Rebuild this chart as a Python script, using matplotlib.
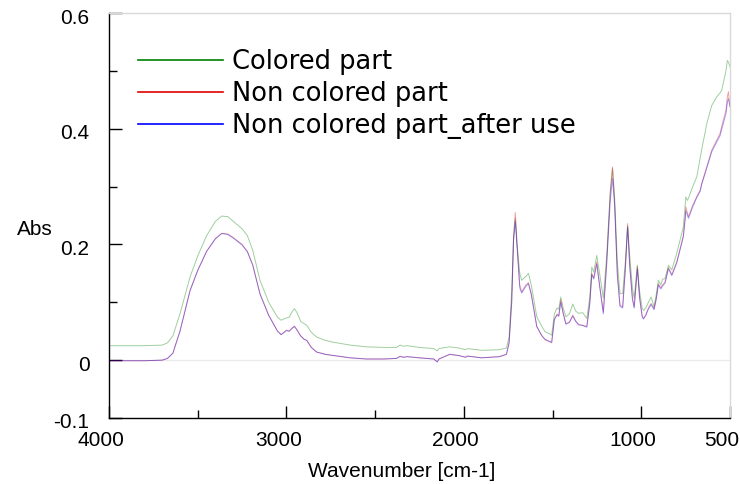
import matplotlib
matplotlib.use('Agg')
import matplotlib.pyplot as plt
import matplotlib.transforms as mtransforms

# wavenumber [cm-1], high to low
wavenumber = [4000, 3800, 3700, 3670, 3640, 3600, 3543, 3500, 3450, 3400,
              3365, 3330, 3300, 3250, 3220, 3190, 3149, 3100, 3050, 3030,
              3000, 2985, 2965, 2955, 2940, 2920, 2900, 2885, 2860, 2830,
              2780, 2736, 2640, 2550, 2450, 2380, 2360, 2340, 2320, 2250,
              2170, 2150, 2140, 2080, 2030, 1990, 1980, 1900, 1800, 1760,
              1745, 1730, 1720, 1710, 1700, 1685, 1674, 1650, 1636, 1620,
              1589, 1560, 1542, 1520, 1505, 1490, 1475, 1465, 1454, 1440,
              1425, 1405, 1386, 1370, 1354, 1330, 1307, 1290, 1279, 1268,
              1251, 1235, 1214, 1195, 1175, 1162, 1150, 1135, 1120, 1105,
              1090, 1077, 1065, 1050, 1040, 1030, 1022, 1010, 995, 988,
              975, 960, 945, 937, 928, 915, 904, 890, 880, 866,
              847, 828, 800, 775, 763, 752, 749, 740, 734, 710,
              687, 668, 660, 630, 603, 575, 556, 546, 523, 515,
              509, 500]

colored = [0.025, 0.025, 0.026, 0.030, 0.042, 0.080, 0.144, 0.180, 0.215, 0.240,
           0.249, 0.248, 0.240, 0.227, 0.215, 0.190, 0.138, 0.100, 0.074, 0.069,
           0.073, 0.074, 0.085, 0.089, 0.082, 0.067, 0.063, 0.060, 0.048, 0.040,
           0.034, 0.031, 0.026, 0.023, 0.022, 0.022, 0.026, 0.024, 0.025, 0.022,
           0.020, 0.016, 0.020, 0.023, 0.021, 0.018, 0.020, 0.017, 0.018, 0.021,
           0.040, 0.121, 0.210, 0.245, 0.200, 0.150, 0.138, 0.145, 0.150, 0.130,
           0.075, 0.058, 0.049, 0.046, 0.043, 0.080, 0.090, 0.088, 0.109, 0.090,
           0.075, 0.080, 0.097, 0.085, 0.081, 0.082, 0.072, 0.110, 0.161, 0.152,
           0.181, 0.150, 0.107, 0.180, 0.290, 0.331, 0.280, 0.170, 0.115, 0.115,
           0.170, 0.232, 0.180, 0.125, 0.107, 0.140, 0.164, 0.120, 0.090, 0.086,
           0.090, 0.100, 0.109, 0.102, 0.092, 0.115, 0.138, 0.130, 0.140, 0.141,
           0.164, 0.156, 0.185, 0.215, 0.230, 0.270, 0.282, 0.276, 0.280, 0.300,
           0.317, 0.350, 0.363, 0.410, 0.440, 0.455, 0.462, 0.467, 0.500, 0.518,
           0.515, 0.507]

non_colored = [-0.001, -0.001, 0.000, 0.003, 0.012, 0.050, 0.121, 0.155, 0.188, 0.210,
               0.219, 0.218, 0.212, 0.200, 0.188, 0.165, 0.115, 0.078, 0.050, 0.044,
               0.052, 0.050, 0.056, 0.059, 0.052, 0.042, 0.036, 0.034, 0.022, 0.014,
               0.010, 0.008, 0.004, 0.002, 0.002, 0.003, 0.007, 0.005, 0.006, 0.004,
               0.002, -0.003, 0.002, 0.010, 0.008, 0.005, 0.007, 0.004, 0.006, 0.010,
               0.030, 0.105, 0.215, 0.255, 0.200, 0.130, 0.118, 0.130, 0.134, 0.115,
               0.058, 0.042, 0.035, 0.032, 0.030, 0.070, 0.080, 0.076, 0.104, 0.082,
               0.063, 0.066, 0.078, 0.068, 0.062, 0.060, 0.058, 0.100, 0.150, 0.142,
               0.170, 0.130, 0.083, 0.170, 0.290, 0.334, 0.270, 0.150, 0.095, 0.092,
               0.160, 0.236, 0.165, 0.108, 0.092, 0.130, 0.162, 0.110, 0.076, 0.072,
               0.078, 0.090, 0.098, 0.094, 0.089, 0.108, 0.132, 0.125, 0.130, 0.135,
               0.160, 0.148, 0.170, 0.200, 0.215, 0.250, 0.265, 0.255, 0.248, 0.268,
               0.283, 0.294, 0.305, 0.335, 0.363, 0.380, 0.392, 0.405, 0.432, 0.455,
               0.464, 0.438]

after_use = [-0.001, -0.001, 0.000, 0.003, 0.012, 0.050, 0.120, 0.155, 0.188, 0.210,
             0.219, 0.217, 0.211, 0.199, 0.187, 0.164, 0.114, 0.077, 0.050, 0.044,
             0.051, 0.050, 0.056, 0.058, 0.052, 0.042, 0.036, 0.034, 0.022, 0.014,
             0.010, 0.008, 0.004, 0.002, 0.002, 0.003, 0.006, 0.005, 0.006, 0.004,
             0.002, -0.003, 0.002, 0.010, 0.008, 0.005, 0.007, 0.004, 0.006, 0.010,
             0.030, 0.100, 0.205, 0.240, 0.195, 0.125, 0.116, 0.128, 0.132, 0.113,
             0.058, 0.042, 0.036, 0.033, 0.031, 0.070, 0.078, 0.076, 0.100, 0.080,
             0.062, 0.065, 0.076, 0.067, 0.061, 0.060, 0.057, 0.098, 0.148, 0.140,
             0.166, 0.128, 0.080, 0.165, 0.275, 0.314, 0.265, 0.145, 0.093, 0.090,
             0.155, 0.230, 0.160, 0.105, 0.090, 0.128, 0.158, 0.108, 0.075, 0.071,
             0.077, 0.088, 0.096, 0.092, 0.087, 0.106, 0.130, 0.123, 0.128, 0.133,
             0.158, 0.146, 0.168, 0.198, 0.213, 0.245, 0.258, 0.250, 0.245, 0.265,
             0.281, 0.292, 0.303, 0.333, 0.360, 0.377, 0.388, 0.400, 0.425, 0.445,
             0.452, 0.438]

series_labels = ['Colored part', 'Non colored part', 'Non colored part_after use']
series_colors = ['#008000', '#e00000', '#0000ff']

x_major = [4000, 3000, 2000, 1000, 500]
x_minor = [3500, 2500, 1500]
y_major = [-0.1, 0, 0.2, 0.4, 0.6]
y_minor = [0.1, 0.3, 0.5]

plt.rcParams['font.family'] = ['Liberation Sans', 'DejaVu Sans']

fig = plt.figure(figsize=(7.4, 4.84), dpi=100)
ax = fig.add_axes([109/740, 66/484, 621/740, 405/484])

ax.axhline(0, color='#ebebeb', lw=1, zorder=0)
for values, label, color in zip([colored, non_colored, after_use], series_labels, series_colors):
    ax.plot(wavenumber, values, color=color, lw=0.7, alpha=0.38, label=label)

ax.set_xlim(4000, 500)
ax.set_ylim(-0.1, 0.6)

ax.set_xticks(x_major)
ax.set_xticklabels([str(v) for v in x_major])
ax.set_xticks(x_minor, minor=True)
ax.set_yticks(y_major)
ax.set_yticklabels(['-0.1', '0', '0.2', '0.4', '0.6'])
ax.set_yticks(y_minor, minor=True)

ax.tick_params(which='both', direction='in', width=1, colors='black', labelsize=15)
ax.tick_params(which='major', length=9)
ax.tick_params(which='minor', length=5.5)
ax.tick_params(axis='x', which='major', pad=9)
ax.tick_params(axis='y', which='major', pad=14)
ax.tick_params(axis='x', which='major', top=False)
ax.tick_params(axis='y', which='both', right=False)

# labels sit slightly left / below their ticks in the original
dx = mtransforms.ScaledTranslation(-8/100, 0, fig.dpi_scale_trans)
for lab in ax.get_xticklabels():
    lab.set_transform(lab.get_transform() + dx)
dy = mtransforms.ScaledTranslation(0, -3/100, fig.dpi_scale_trans)
for lab in ax.get_yticklabels():
    lab.set_transform(lab.get_transform() + dy)

for side in ['left', 'bottom']:
    ax.spines[side].set_color('black')
    ax.spines[side].set_linewidth(1)
for side in ['top', 'right']:
    ax.spines[side].set_color('#d9d9d9')
    ax.spines[side].set_linewidth(1)

fig.text(402/740, 7/484, 'Wavenumber [cm-1]', ha='center', va='baseline', fontsize=15)
fig.text(17/740, 249/484, 'Abs', ha='left', va='baseline', fontsize=15)

leg = ax.legend(loc='upper left', bbox_to_anchor=(0.03, 0.937), frameon=False,
                prop={'family': 'DejaVu Sans', 'size': 18.5},
                handlelength=3.3, handletextpad=0.35, labelspacing=0.24,
                borderaxespad=0)
for line in leg.get_lines():
    line.set_alpha(1)
    line.set_linewidth(1.2)

fig.savefig('out.png', dpi=100)
